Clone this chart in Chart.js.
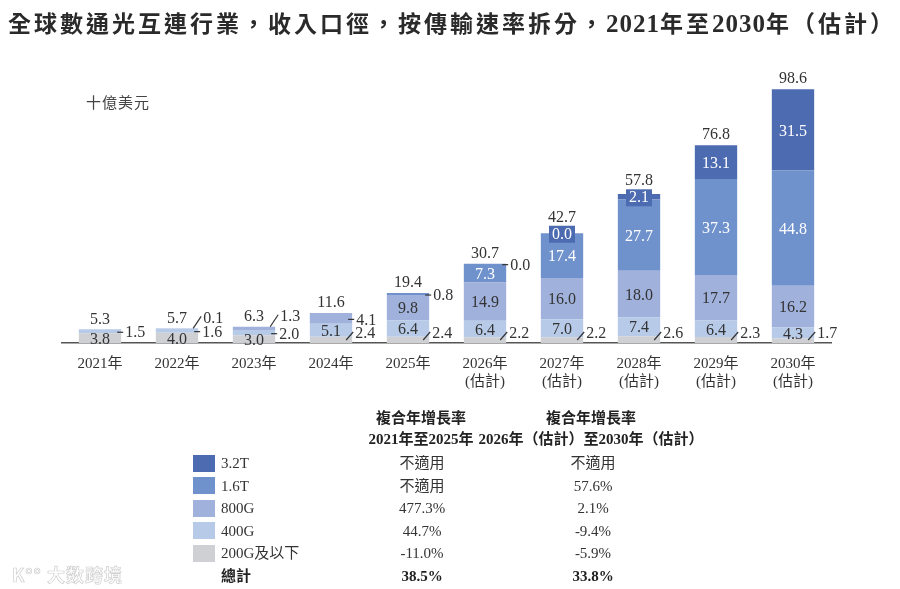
<!DOCTYPE html>
<html>
<head>
<meta charset="utf-8">
<script src="https://cdn.jsdelivr.net/npm/chart.js@4.4.1/dist/chart.umd.min.js"></script>
<style>
  html, body { margin: 0; padding: 0; background: #fff; }
  #wrap { position: relative; width: 900px; height: 589px; overflow: hidden; font-family: "Liberation Serif", "Noto Sans CJK TC", serif; color: #333; }
  #chartBox { position: absolute; left: 0; top: 0; width: 900px; height: 589px; }
  .abs { position: absolute; white-space: nowrap; }
  #title { left: 8px; top: 8px; font-size: 23px; line-height: 32px; font-weight: bold; letter-spacing: 3px; color: #2a2a2a; }
  #title .num { font-family: "Liberation Serif"; font-size: 25px; letter-spacing: 1px; }
  #unit { left: 86px; top: 91px; font-size: 15px; letter-spacing: 1px; color: #444; }
  .hdr { font-weight: bold; font-size: 15px; transform: translateX(-50%); line-height: 20px; color: #222; }
  .sw { width: 22px; height: 17px; }
  .rl { font-size: 15px; line-height: 20px; transform: translateY(-50%); }
  .cv { font-size: 15px; line-height: 20px; transform: translate(-50%, -50%); }
  .bold { font-weight: bold; color: #222; }
  #wm { left: 12px; top: 561px; font-size: 18px; font-weight: bold; color: #fff; -webkit-text-stroke: 0.7px #cfcfcf; letter-spacing: 1px; font-family: "Noto Sans CJK SC"; }
</style>
</head>
<body>
<div id="wrap">
  <div id="chartBox"><canvas id="c"></canvas></div>
  <div id="title" class="abs">全球數通光互連行業，收入口徑，按傳輸速率拆分，<span class="num">2021</span>年至<span class="num">2030</span>年（估計）</div>
  <div id="unit" class="abs">十億美元</div>
  <div id="table"></div>
  <div id="wm" class="abs">K°° 大数跨境</div>
</div>
<script>
// ---------------- data ----------------
const categories = [["2021年"], ["2022年"], ["2023年"], ["2024年"], ["2025年"],
  ["2026年", "(估計)"], ["2027年", "(估計)"], ["2028年", "(估計)"], ["2029年", "(估計)"], ["2030年", "(估計)"]];
const seriesNames = ["200G及以下", "400G", "800G", "1.6T", "3.2T"];
const s200G = [3.8, 4.0, 3.0, 2.4, 2.4, 2.2, 2.2, 2.6, 2.3, 1.7];
const s400G = [1.5, 1.6, 2.0, 5.1, 6.4, 6.4, 7.0, 7.4, 6.4, 4.3];
const s800G = [null, 0.1, 1.3, 4.1, 9.8, 14.9, 16.0, 18.0, 17.7, 16.2];
const s1_6T = [null, null, null, null, 0.8, 7.3, 17.4, 27.7, 37.3, 44.8];
const s3_2T = [null, null, null, null, null, 0.0, 0.0, 2.1, 13.1, 31.5];
const totals = [5.3, 5.7, 6.3, 11.6, 19.4, 30.7, 42.7, 57.8, 76.8, 98.6];
const cagrHeader1 = ["複合年增長率", "2021年至2025年"];
const cagrHeader2 = ["複合年增長率", "2026年（估計）至2030年（估計）"];
const tableRows = ["3.2T", "1.6T", "800G", "400G", "200G及以下", "總計"];
const cagr2125 = ["不適用", "不適用", "477.3%", "44.7%", "-11.0%", "38.5%"];
const cagr2630 = ["不適用", "57.6%", "2.1%", "-9.4%", "-5.9%", "33.8%"];

// ---------------- style ----------------
const colors = ["#cfd0d4", "#b7cae8", "#a0b1dc", "#7092cc", "#4d6bb0"];
const labelColors = ["#333", "#333", "#333", "#fff", "#fff"];
// label placement per series (bottom -> top), per category
const modes = [
  ["in", "in", "in", "slash", "slash", "slash", "slash", "slash", "slash", "slash"],
  ["dash", "dash", "dash", "in", "in", "in", "in", "in", "in", "in"],
  [null, "slashUp", "slashUp", "dash", "in", "in", "in", "in", "in", "in"],
  [null, null, null, null, "dash", "in", "in", "in", "in", "in"],
  [null, null, null, null, null, "dash", "box", "box", "in", "in"]
];
const LABEL_FONT = '16px "Liberation Serif"';

const seriesData = [s200G, s400G, s800G, s1_6T, s3_2T];

const labelPlugin = {
  id: 'segLabels',
  afterDatasetsDraw(chart) {
    const ctx = chart.ctx;
    const base = chart.scales.y.getPixelForValue(0);
    ctx.save();
    ctx.font = LABEL_FONT;
    ctx.textBaseline = 'middle';
    ctx.lineWidth = 1.2;
    const tops = [];
    chart.data.datasets.forEach((ds, di) => {
      const meta = chart.getDatasetMeta(di);
      meta.data.forEach((bar, i) => {
        const v = ds.data[i];
        if (v === null || v === undefined) return;
        const p = bar.getProps(['x', 'y', 'base', 'width'], true);
        const right = p.x + p.width / 2;
        const cy = (p.y + p.base) / 2;
        const top = Math.min(p.y, p.base);
        if (tops[i] === undefined || top < tops[i]) tops[i] = top;
        const mode = modes[di][i];
        if (!mode) return;
        const txt = v.toFixed(1);
        if (mode === 'in') {
          ctx.fillStyle = labelColors[di];
          ctx.textAlign = 'center';
          ctx.fillText(txt, p.x, cy + 1.5);
        } else if (mode === 'box') {
          const w = 26, h = 17;
          ctx.fillStyle = colors[di];
          ctx.fillRect(p.x - w / 2, cy + 1 - h / 2, w, h);
          ctx.fillStyle = '#fff';
          ctx.textAlign = 'center';
          ctx.fillText(txt, p.x, cy + 1.5);
          const bt = cy + 1 - h / 2;
          if (tops[i] === undefined || bt < tops[i]) tops[i] = bt + 2;
        } else if (mode === 'dash') {
          const y = cy + 1;
          ctx.strokeStyle = '#333';
          ctx.beginPath(); ctx.moveTo(right - 4, y); ctx.lineTo(right + 2, y); ctx.stroke();
          ctx.fillStyle = '#333';
          ctx.textAlign = 'left';
          ctx.fillText(txt, right + 4, y + 1);
        } else if (mode === 'slash') {
          ctx.strokeStyle = '#333';
          ctx.beginPath(); ctx.moveTo(right - 6, base - 3); ctx.lineTo(right + 1, base - 11); ctx.stroke();
          ctx.fillStyle = '#333';
          ctx.textAlign = 'left';
          ctx.fillText(txt, right + 3, base - 9);
        } else if (mode === 'slashUp') {
          ctx.strokeStyle = '#333';
          ctx.beginPath(); ctx.moveTo(right - 5, top); ctx.lineTo(right + 3, top - 12); ctx.stroke();
          ctx.fillStyle = '#333';
          ctx.textAlign = 'left';
          ctx.fillText(txt, right + 5, top - 10);
        }
      });
    });
    // totals
    ctx.fillStyle = '#333';
    ctx.textAlign = 'center';
    const meta0 = chart.getDatasetMeta(0);
    totals.forEach((t, i) => {
      const x = meta0.data[i].x;
      ctx.fillText(t.toFixed(1), x, tops[i] - 10);
    });
    ctx.restore();
  }
};

const ctx = document.getElementById('c');
new Chart(ctx, {
  type: 'bar',
  data: {
    labels: categories,
    datasets: seriesData.map((d, i) => ({
      label: seriesNames[i],
      data: d,
      backgroundColor: colors[i],
      borderWidth: 0,
      barPercentage: 0.55,
      categoryPercentage: 1.0
    }))
  },
  options: {
    responsive: true,
    maintainAspectRatio: false,
    animation: false,
    devicePixelRatio: 1,
    layout: { padding: { left: 61.5, right: 68.5, top: 59.6, bottom: 0 } },
    plugins: { legend: { display: false }, tooltip: { enabled: false }, title: { display: false } },
    scales: {
      x: {
        stacked: true,
        grid: { display: false, drawTicks: false },
        border: { display: true, color: '#555', width: 1.6 },
        ticks: { color: '#333', font: { family: '"Liberation Serif", "Noto Sans CJK TC"', size: 15 }, padding: 12, autoSkip: false, maxRotation: 0 },
        afterFit(scale) { scale.height = 246; }
      },
      y: { stacked: true, display: false, min: 0, max: 110 }
    }
  },
  plugins: [labelPlugin]
});

// ---------------- CAGR table (legend) ----------------
const table = document.getElementById('table');
function el(cls, text, css) {
  const d = document.createElement('div');
  d.className = 'abs ' + cls;
  d.textContent = text;
  Object.assign(d.style, css);
  table.appendChild(d);
  return d;
}
const col1 = 421, col2 = 591;
el('hdr', cagrHeader1[0], { left: col1 + 'px', top: '408px' });
el('hdr', cagrHeader1[1], { left: col1 + 'px', top: '429px' });
el('hdr', cagrHeader2[0], { left: col2 + 'px', top: '408px' });
el('hdr', cagrHeader2[1], { left: col2 + 'px', top: '429px' });
const swatchColors = [colors[4], colors[3], colors[2], colors[1], colors[0], null];
tableRows.forEach((name, r) => {
  const yc = 463 + r * 22.6;
  const bold = r === tableRows.length - 1;
  if (swatchColors[r]) el('sw', '', { left: '193px', top: (yc - 8.5) + 'px', background: swatchColors[r] });
  el('rl' + (bold ? ' bold' : ''), name, { left: '221px', top: yc + 'px' });
  el('cv' + (bold ? ' bold' : ''), cagr2125[r], { left: (col1 + 1) + 'px', top: yc + 'px' });
  el('cv' + (bold ? ' bold' : ''), cagr2630[r], { left: (col2 + 2) + 'px', top: yc + 'px' });
});
</script>
</body>
</html>
